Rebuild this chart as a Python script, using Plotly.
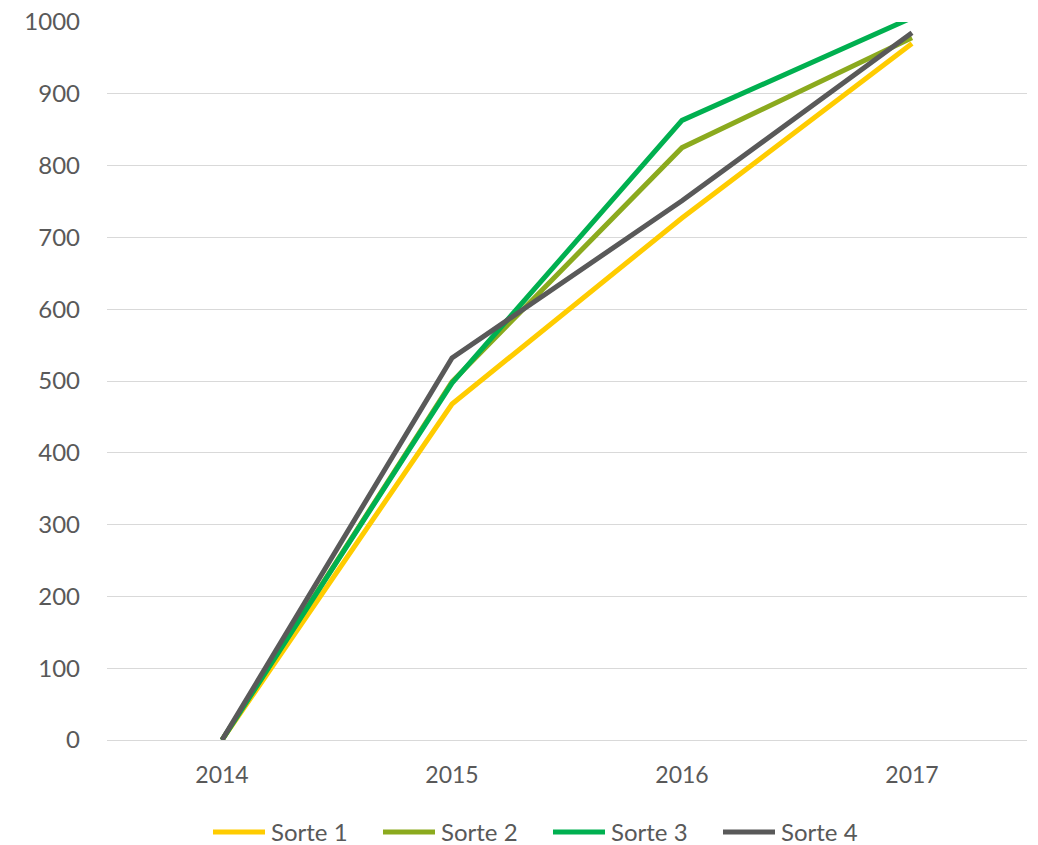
import plotly.graph_objects as go

years = ["2014", "2015", "2016", "2017"]
sorte1 = [0, 468, 727, 970]
sorte2 = [0, 499, 825, 978]
sorte3 = [0, 497, 863, 1006]
sorte4 = [0, 532, 751, 985]
names = ["Sorte 1", "Sorte 2", "Sorte 3", "Sorte 4"]
colors = ["#FFCC00", "#8BAA1E", "#00B050", "#595959"]
y_ticks = [0, 100, 200, 300, 400, 500, 600, 700, 800, 900, 1000]

fig = go.Figure()
for name, vals, col in zip(names, [sorte1, sorte2, sorte3, sorte4], colors):
    fig.add_trace(go.Scatter(x=years, y=vals, name=name, mode="lines",
                             line=dict(color=col, width=5), showlegend=False))

# custom legend (Excel style: long line sample + label)
plot_l, plot_w = 107, 920
leg_y = -0.128
item_start = 213
item_step = 170
line_len = 52
for i, (name, col) in enumerate(zip(names, colors)):
    x0 = item_start + i * item_step
    fig.add_shape(type="line", xref="paper", yref="paper",
                  x0=(x0 - plot_l) / plot_w, x1=(x0 + line_len - plot_l) / plot_w,
                  y0=leg_y, y1=leg_y, line=dict(color=col, width=5))
    fig.add_annotation(xref="paper", yref="paper",
                       x=(x0 + line_len + 4 - plot_l) / plot_w, y=leg_y,
                       xanchor="left", yanchor="middle", text=name, showarrow=False,
                       font=dict(size=24, color="#595959"))

fig.update_layout(
    width=1038, height=845,
    margin=dict(l=107, r=11, t=22, b=105, autoexpand=False),
    plot_bgcolor="white", paper_bgcolor="white",
    font=dict(family="Lato, Open Sans, sans-serif", size=24, color="#595959"),
    showlegend=False,
    xaxis=dict(type="category", showgrid=False, showline=True, linecolor="#D9D9D9",
               linewidth=1, ticks="", tickfont=dict(size=23), range=[-0.5, 3.5],
               automargin=False, ticklabelstandoff=14),
    yaxis=dict(range=[0, 1000], tickvals=y_ticks, showgrid=True, gridcolor="#D9D9D9",
               gridwidth=1, zeroline=False, ticks="", tickfont=dict(size=24),
               ticklabelstandoff=26, automargin=False),
)
fig.write_html("out.html", config={"displayModeBar": False},
               post_script="document.body.style.margin='0';document.body.style.overflow='hidden';")
